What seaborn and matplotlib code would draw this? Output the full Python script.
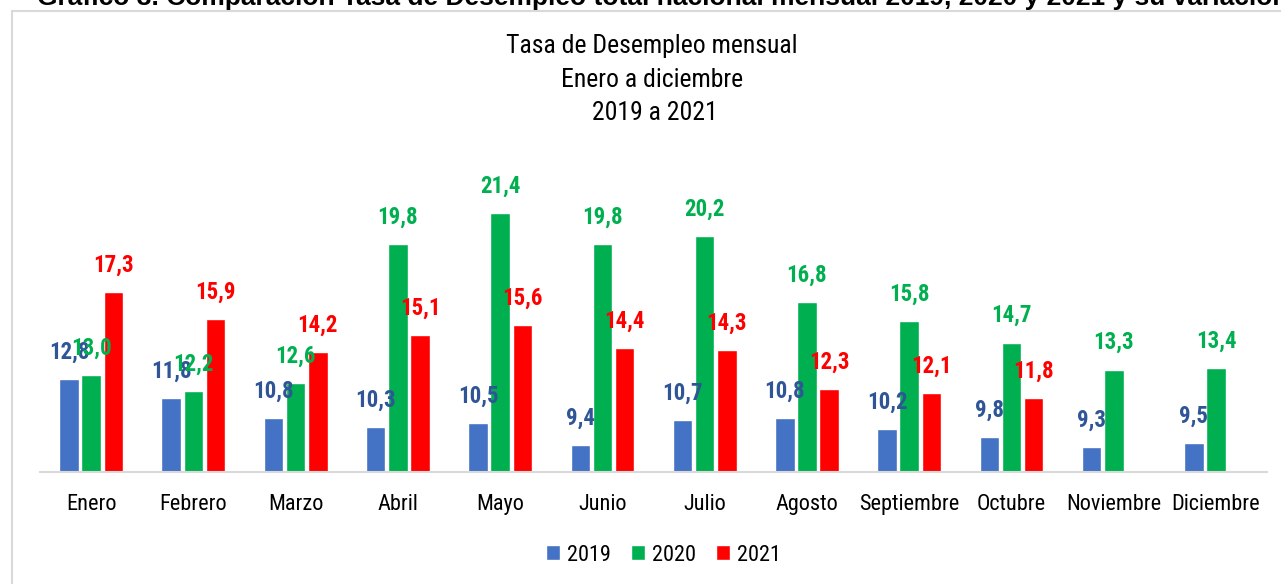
import numpy as np
import pandas as pd
import matplotlib
import matplotlib.pyplot as plt
import seaborn as sns
from matplotlib.patches import Rectangle

matplotlib.use('Agg')

meses = ["Enero", "Febrero", "Marzo", "Abril", "Mayo", "Junio", "Julio",
         "Agosto", "Septiembre", "Octubre", "Noviembre", "Diciembre"]
tasa_2019 = [12.8, 11.8, 10.8, 10.3, 10.5, 9.4, 10.7, 10.8, 10.2, 9.8, 9.3, 9.5]
tasa_2020 = [13.0, 12.2, 12.6, 19.8, 21.4, 19.8, 20.2, 16.8, 15.8, 14.7, 13.3, 13.4]
tasa_2021 = [17.3, 15.9, 14.2, 15.1, 15.6, 14.4, 14.3, 12.3, 12.1, 11.8, np.nan, np.nan]
anios = ["2019", "2020", "2021"]

colores = {"2019": "#4472C4", "2020": "#00B050", "2021": "#FF0000"}
colores_etiqueta = {"2019": "#2F5597", "2020": "#00B050", "2021": "#FF0000"}

df = pd.DataFrame({
    "Mes": meses * 3,
    "Tasa": tasa_2019 + tasa_2020 + tasa_2021,
    "Anio": ["2019"] * 12 + ["2020"] * 12 + ["2021"] * 12,
})

sns.set_style("white")
plt.rcParams['font.family'] = ['Roboto Condensed', 'DejaVu Sans']

fig = plt.figure(figsize=(12.81, 5.84), dpi=100)
ax = fig.add_axes([0.0312, 0.1923, 0.958, 0.55])

sns.barplot(data=df, x="Mes", y="Tasa", hue="Anio", hue_order=anios, order=meses,
            palette=colores, width=0.65, gap=0.12, ax=ax, errorbar=None, saturation=1)

# etiquetas de datos
for cont, anio in zip(ax.containers, anios):
    for barra in cont:
        h = barra.get_height()
        if np.isnan(h):
            continue
        ax.annotate(f"{h:.1f}".replace(".", ","),
                    (barra.get_x() + barra.get_width() / 2, h),
                    xytext=(0, 11), textcoords="offset points",
                    ha="center", va="bottom", fontsize=16.5, fontweight="bold",
                    color=colores_etiqueta[anio])

ax.set_ylim(8, 24.66)
ax.set_xlim(-0.5, 11.5)
ax.set_yticks([])
ax.set_xlabel("")
ax.set_ylabel("")
for lado in ["top", "right", "left"]:
    ax.spines[lado].set_visible(False)
ax.spines["bottom"].set_color("#D9D9D9")
ax.spines["bottom"].set_linewidth(1.5)
ax.tick_params(axis="x", length=0, labelsize=16, pad=16, labelcolor="black")

ax.legend(loc="upper center", bbox_to_anchor=(0.508, -0.165), ncol=3, frameon=False,
          fontsize=16, handlelength=0.65, handleheight=0.65, handletextpad=0.3,
          columnspacing=0.9, labelcolor="black")

fig.text(0.509, 1 - 80 / 584, "Tasa de Desempleo mensual\nEnero a diciembre\n 2019 a 2021",
         ha="center", va="center", fontsize=18.5, linespacing=1.5, color="black")

# recuadro del grafico y titulo recortado
fig.patches.append(Rectangle((12 / 1281, -0.05), 1.2, 1 - 11 / 584 + 0.05,
                             transform=fig.transFigure, fill=False,
                             edgecolor="#D9D9D9", linewidth=1.5))
fig.text(37 / 1281, 1 - 5 / 584,
         "Gráfico 3. Comparación Tasa de Desempleo total nacional mensual 2019, 2020 y 2021 y su variación",
         ha="left", va="baseline", fontsize=19, fontweight="bold", color="black",
         family=["Liberation Sans", "DejaVu Sans"])

fig.savefig("out.png", dpi=100)
